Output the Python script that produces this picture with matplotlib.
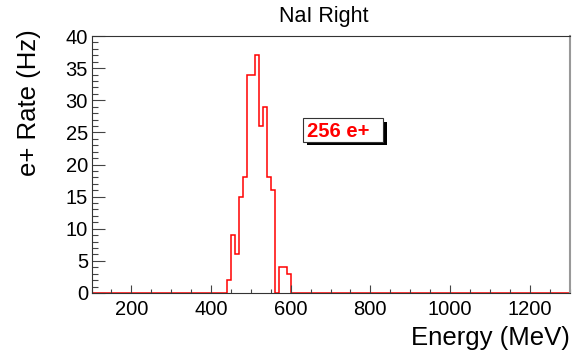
import numpy as np
import matplotlib
matplotlib.use("Agg")
import matplotlib.pyplot as plt
from matplotlib.patches import Rectangle
from matplotlib.ticker import MultipleLocator

plt.rcParams['font.family'] = ['Liberation Sans', 'DejaVu Sans']

# ---- data ----
x_min, x_max, bin_width = 100, 1300, 10
first_bin = 440
rates = [2, 9, 6, 15, 18, 34, 34, 37, 26, 29, 18, 16, 0, 4, 4, 3]
title = "NaI Right"
xlabel = "Energy (MeV)"
ylabel = "e+ Rate (Hz)"
annotation = "256 e+"
x_ticks = [200, 400, 600, 800, 1000, 1200]
y_ticks = [0, 5, 10, 15, 20, 25, 30, 35, 40]

edges = np.arange(x_min, x_max + bin_width, bin_width)
counts = np.zeros(len(edges) - 1)
start = (first_bin - x_min) // bin_width
counts[start:start + len(rates)] = rates

W, H = 580, 354
fig = plt.figure(figsize=(W / 100, H / 100), dpi=100)
ax = fig.add_axes([91.5 / W, 61 / H, 478 / W, 257 / H])

ax.stairs(counts, edges, color='#ff0000', linewidth=1.1, baseline=None)
ax.set_xlim(x_min, x_max)
ax.set_ylim(0, 40)
ax.set_xticks(x_ticks)
ax.set_yticks(y_ticks)
ax.xaxis.set_minor_locator(MultipleLocator(50))
ax.yaxis.set_minor_locator(MultipleLocator(1))
ax.tick_params(axis='both', which='both', direction='in', colors='#444444',
               labelcolor='black', top=False, right=False, width=0.8)
ax.tick_params(axis='x', which='major', length=5.8, pad=5, labelsize=14.5)
ax.tick_params(axis='x', which='minor', length=2.6)
ax.tick_params(axis='y', which='major', length=9, pad=2.5, labelsize=14.5)
ax.tick_params(axis='y', which='minor', length=4.5)
for s in ['left', 'bottom', 'top']:
    ax.spines[s].set_color('#333333')
    ax.spines[s].set_linewidth(0.8)
ax.spines['right'].set_color('#999999')
ax.spines['right'].set_linewidth(1.5)

# labels
fig.text(324 / W, 1 - 21.7 / H, title, ha='center', va='baseline', fontsize=15.5)
fig.text(570 / W, 1 - 345 / H, xlabel, ha='right', va='baseline', fontsize=18.5)
fig.text(29 / W, 1 - 29 / H, ylabel, ha='center', va='top', rotation=90, fontsize=18.5)

# annotation box with shadow (pixel -> axes coords)
def ax_xy(px, py):
    return ((px - 91.5) / 478, (293 - py) / 257)

bx0, by0 = ax_xy(302.7, 141.7)
bx1, by1 = ax_xy(382.7, 118.3)
sx0, sy0 = ax_xy(306.7, 145.2)
ax.add_patch(Rectangle((sx0, sy0), bx1 - bx0, by1 - by0, transform=ax.transAxes,
                       facecolor='black', edgecolor='none', zorder=5))
ax.add_patch(Rectangle((bx0, by0), bx1 - bx0, by1 - by0, transform=ax.transAxes,
                       facecolor='white', edgecolor='#333333', linewidth=0.8, zorder=6))
tx, ty = ax_xy(306.7, 136.7)
ax.text(tx, ty, annotation, transform=ax.transAxes, color='#ff0000', fontsize=14.5,
        fontweight='bold', ha='left', va='baseline', zorder=7)

fig.savefig("out.png", dpi=100)
